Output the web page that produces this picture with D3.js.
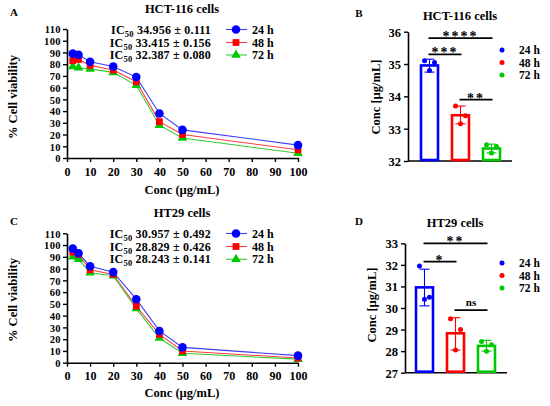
<!DOCTYPE html>
<html><head><meta charset="utf-8">
<script src="https://cdn.jsdelivr.net/npm/d3@7"></script>
<style>
body{margin:0;background:#fff;}
svg{font-family:"Liberation Serif","Times New Roman",serif;font-weight:bold;}
</style></head>
<body><svg id="c" width="550" height="406"></svg>
<script>
// ---- data ----
const conc = [2.5, 5, 10, 20, 30, 40, 50, 100];
const series = ["24 h", "48 h", "72 h"];
const colors = ["#0000ff", "#ff0000", "#00c800"];
const lineColors = ["#3d3dff", "#ff3d3d", "#33cc33"];
// Panel A: HCT-116 viability
const hct24 = [89, 88, 82, 78, 69, 38, 24, 11];
const hct48 = [83, 84, 79, 75, 65, 31, 20, 7];
const hct72 = [78, 77, 76, 73, 62, 28, 17, 4];
const hctIC = ["34.956 \u00b1 0.111", "33.415 \u00b1 0.156", "32.387 \u00b1 0.080"];
// Panel C: HT29 viability
const ht24 = [97, 93, 82, 77, 54, 27, 13, 6];
const ht48 = [94, 92, 79, 75, 48, 24, 10, 4];
const ht72 = [90, 88, 76.5, 74, 46, 21, 8, 3];
const htIC = ["30.957 \u00b1 0.492", "28.829 \u00b1 0.426", "28.243 \u00b1 0.141"];
// Panel B: HCT-116 IC50
const hctMean = [34.956, 33.415, 32.387];
const hctErr = [[34.75, 35.15], [33.15, 33.7], [32.25, 32.52]];
const hctDots = [[35.1, 35.05, 34.8], [33.7, 33.4, 33.15], [32.5, 32.45, 32.25]];
// Panel D: HT29 IC50
const htMean = [30.957, 28.829, 28.243];
const htErr = [[30.1, 31.8], [28.05, 29.55], [28.0, 28.5]];
const htDots = [[31.95, 30.5, 30.4], [29.5, 29.0, 28.05], [28.45, 28.3, 28.0]];
const xTicks = [0, 10, 20, 30, 40, 50, 60, 70, 80, 90, 100];
const yTicksLine = [0, 10, 20, 30, 40, 50, 60, 70, 80, 90, 100, 110];

const svg = d3.select("#c");
const symTypes = [d3.symbolCircle, d3.symbolSquare, d3.symbolTriangle];
const symSizes = [58, 46, 40];

function styleAxis(g){
  g.select(".domain").attr("stroke","#000").attr("stroke-width",1.6);
  g.selectAll(".tick line").attr("stroke","#000").attr("stroke-width",1.4);
  g.selectAll(".tick text").attr("fill","#000").style("font-size","12px").style("font-weight","bold")
   .style("font-family",'"Liberation Serif","Times New Roman",serif');
}

function linePanel(opt){
  const x = d3.scaleLinear().domain([0,100]).range([67,298]);
  const y = d3.scaleLinear().domain([0,110]).range([opt.y0, opt.y1]);
  const g = svg.append("g");
  const gx = g.append("g").attr("transform",`translate(0,${opt.y0})`)
    .call(d3.axisBottom(x).tickValues(xTicks).tickSize(4).tickSizeOuter(0).tickPadding(5));
  styleAxis(gx);
  const gy = g.append("g").attr("transform","translate(67,0)")
    .call(d3.axisLeft(y).tickValues(yTicksLine).tickSize(4).tickSizeOuter(0).tickPadding(2));
  styleAxis(gy);
  gy.selectAll(".tick text").attr("dy","0.36em").style("font-size","10.5px").style("letter-spacing","0.4px");
  const data = opt.data;
  data.forEach((vals,i)=>{
    const pts = conc.map((c,j)=>[c, vals[j]]);
    g.append("path").datum(pts)
      .attr("fill","none").attr("stroke",lineColors[i]).attr("stroke-width",1.1)
      .attr("d", d3.line().x(d=>x(d[0])).y(d=>y(d[1])));
  });
  [2,1,0].forEach(i=>{
    g.selectAll(null).data(conc.map((c,j)=>[c,data[i][j]])).enter().append("path")
      .attr("d", d3.symbol().type(symTypes[i]).size(symSizes[i]))
      .attr("transform", d=>`translate(${x(d[0])},${y(d[1])})`)
      .attr("fill", colors[i]);
  });
  g.append("text").attr("x",14).attr("y",opt.labY).attr("text-anchor","middle")
    .style("font-size","11px").text(opt.letter);
  g.append("text").attr("x",182).attr("y",opt.titleY).attr("text-anchor","middle")
    .style("font-size","12.5px").text(opt.title);
  g.append("text").attr("x",182).attr("y",opt.xLabY).attr("text-anchor","middle")
    .style("font-size","12.5px").text("Conc (\u00b5g/mL)");
  g.append("text").attr("transform",`translate(17,${opt.yLabC}) rotate(-90)`).attr("text-anchor","middle")
    .style("font-size","12.5px").text("% Cell viability");
  opt.ic.forEach((t,i)=>{
    const cy = opt.icY[i];
    const tx = g.append("text").attr("x",211).attr("y",cy+4).attr("text-anchor","end").style("font-size","12px").style("letter-spacing","0.2px");
    tx.append("tspan").text("IC");
    tx.append("tspan").attr("dy",3).style("font-size","8.5px").text("50");
    tx.append("tspan").attr("dy",-3).text(" " + t);
    g.append("line").attr("x1",226).attr("x2",247).attr("y1",cy).attr("y2",cy)
      .attr("stroke",lineColors[i]).attr("stroke-width",1.1);
    g.append("path").attr("d", d3.symbol().type(symTypes[i]).size(symSizes[i]))
      .attr("transform",`translate(236,${cy})`).attr("fill",colors[i]);
    g.append("text").attr("x",252).attr("y",cy+4).style("font-size","12px").text(series[i]);
  });
}

linePanel({y0:158, y1:29, data:[hct24,hct48,hct72], ic:hctIC, icY:[29.5,42.5,55],
  letter:"A", labY:16, title:"HCT-116 cells", titleY:13, xLabY:194, yLabC:97});
linePanel({y0:362.7, y1:233.3, data:[ht24,ht48,ht72], ic:htIC, icY:[233.5,246.5,259.3],
  letter:"C", labY:225, title:"HT29 cells", titleY:217, xLabY:397, yLabC:300});

function barPanel(opt){
  const x = d3.scalePoint().domain(series).range(opt.xr);
  const y = d3.scaleLinear().domain(opt.dom).range([opt.y0, opt.y1]);
  const g = svg.append("g");
  const gy = g.append("g").attr("transform",`translate(${opt.ax},0)`)
    .call(d3.axisLeft(y).ticks(opt.dom[1]-opt.dom[0]).tickFormat(d3.format("d")).tickSize(4).tickSizeOuter(0).tickPadding(3));
  styleAxis(gy);
  gy.selectAll(".tick text").style("font-size","12.5px").attr("dy","0.36em");
  g.append("line").attr("x1",opt.ax).attr("x2",opt.axEnd).attr("y1",opt.y0).attr("y2",opt.y0)
    .attr("stroke","#000").attr("stroke-width",1.6);
  const bw = 17;
  series.forEach((s,i)=>{
    const cx = x(s);
    g.append("rect").attr("x",cx-bw/2).attr("width",bw)
      .attr("y",y(opt.mean[i])).attr("height",opt.y0 - y(opt.mean[i]) - 1)
      .attr("fill","#fff").attr("stroke",colors[i]).attr("stroke-width",2.6);
    const e = opt.err[i];
    g.append("line").attr("x1",cx).attr("x2",cx).attr("y1",y(e[0])).attr("y2",y(e[1]))
      .attr("stroke",colors[i]).attr("stroke-width",1.1);
    [e[0],e[1]].forEach(v=>g.append("line").attr("x1",cx-5).attr("x2",cx+5).attr("y1",y(v)).attr("y2",y(v))
      .attr("stroke",colors[i]).attr("stroke-width",1.1));
    opt.dots[i].forEach((v,k)=>g.append("circle").attr("cx",cx+[-5,5,0][k]).attr("cy",y(v)).attr("r",2.5).attr("fill",colors[i]));
  });
  opt.sig.forEach(sg=>{
    const yy = y(sg.v);
    const x1 = x(series[sg.a]) - 1, x2 = x(series[sg.b]) + 1;
    g.append("line").attr("x1",x1).attr("x2",x2).attr("y1",yy).attr("y2",yy).attr("stroke","#000").attr("stroke-width",1.8);
    g.append("text").attr("x",(x1+x2)/2).attr("y",yy+ (sg.t==="ns"? -4 : 3)).attr("text-anchor","middle")
      .style("font-size", sg.t==="ns" ? "11px" : "14px").style("letter-spacing", sg.t==="ns"?"0px":"2px").text(sg.t);
  });
  series.forEach((s,i)=>{
    const ly = opt.legY[i];
    g.append("circle").attr("cx",502).attr("cy",ly).attr("r",2.5).attr("fill",colors[i]);
    g.append("text").attr("x",519).attr("y",ly+4).style("font-size","11.5px").text(s);
  });
  g.append("text").attr("x",359).attr("y",opt.labY).attr("text-anchor","middle").style("font-size","11px").text(opt.letter);
  g.append("text").attr("x",opt.titleX).attr("y",opt.titleY).attr("text-anchor","middle").style("font-size","12.5px").text(opt.title);
  g.append("text").attr("transform",`translate(${opt.ylx},${opt.ylc}) rotate(-90)`).attr("text-anchor","middle")
    .style("font-size","12.5px").text("Conc [\u00b5g/mL]");
}

barPanel({xr:[429.5,491.5], dom:[32,36], y0:161, y1:31.7, ax:408, axEnd:512,
  mean:hctMean, err:hctErr, dots:hctDots,
  sig:[{a:0,b:2,v:35.8,t:"****"},{a:0,b:1,v:35.3,t:"***"},{a:1,b:2,v:33.9,t:"**"}],
  legY:[50,62.5,75], letter:"B", labY:17, title:"HCT-116 cells", titleX:460, titleY:20, ylx:380, ylc:97});
barPanel({xr:[424.5,486.5], dom:[27,33], y0:372.7, y1:243.3, ax:405, axEnd:507,
  mean:htMean, err:htErr, dots:htDots,
  sig:[{a:0,b:2,v:33.0,t:"**"},{a:0,b:1,v:32.15,t:"*"},{a:1,b:2,v:29.9,t:"ns"}],
  legY:[263,275.5,288], letter:"D", labY:225, title:"HT29 cells", titleX:455, titleY:227, ylx:376, ylc:305});
</script></body></html>
